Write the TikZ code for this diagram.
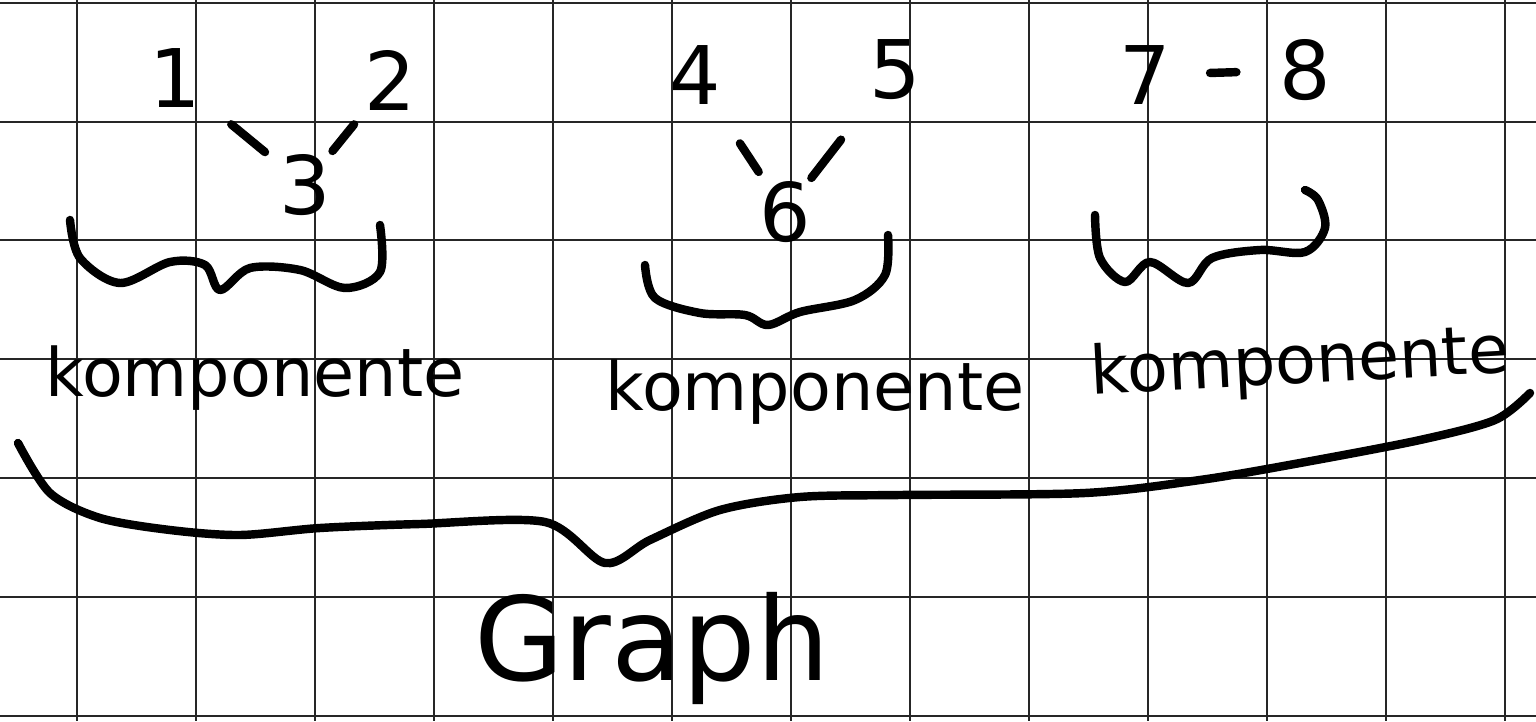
\documentclass[tikz,border=0pt]{standalone}
\usepackage{fontspec}
\setmainfont{DejaVu Sans}
\usetikzlibrary{positioning}

\begin{document}
\begin{tikzpicture}[
  x=0.01cm, y=-0.01cm,
  grid/.style={line width=0.75pt, black!85},
  pen/.style={line width=2.4pt, line cap=round, line join=round},
  vertex/.style={font=\fontsize{23}{23}\selectfont, inner sep=0pt},
  edge/.style={pen, shorten <=5pt, shorten >=5pt},
  part/.style={font=\fontsize{19}{19}\selectfont, inner sep=1pt},
  every node/.style={text=black}
]
  \useasboundingbox (0,0) rectangle (1536,721);
  \fill[white] (0,0) rectangle (1536,721);

  % squared paper
  \foreach \x in {77,196,...,1505} {
    \draw[grid] (\x,0) -- (\x,721);
  }
  \foreach \y in {3,122,240,359,478,597,716} {
    \draw[grid] (0,\y) -- (1536,\y);
  }

  % first component
  \node[vertex] (n1) at (175,78) {1};
  \node[vertex] (n2) at (390,80) {2};
  \node[vertex] (n3) at (305,185) {3};
  \draw[edge, shorten <=11pt] (n1) -- (n3);
  \draw[edge, shorten >=1pt] (n2) -- (n3);

  % second component
  \node[vertex] (n4) at (695,75) {4};
  \node[vertex] (n5) at (895,70) {5};
  \node[vertex] (n6) at (785,212) {6};
  \draw[edge, shorten <=13pt, shorten >=3pt] (n4) -- (n6);
  \draw[edge, shorten <=14pt, shorten >=1pt] (n5) -- (n6);

  % third component
  \node[vertex] (n7) at (1145,75) {7};
  \node[vertex] (n8) at (1305,70) {8};
  \draw[edge, shorten <=11pt, shorten >=12pt] (n7) -- (n8);

  % braces under the components
  \draw[pen] plot[smooth, tension=0.55] coordinates {
    (70,220) (80,258) (120,283) (170,262) (205,265) (220,290)
    (250,268) (300,270) (345,288) (380,272) (380,225)};
  \draw[pen] plot[smooth, tension=0.55] coordinates {
    (645,265) (655,298) (700,313) (745,315) (768,325)
    (800,312) (855,300) (885,275) (888,235)};
  \draw[pen] plot[smooth, tension=0.55] coordinates {
    (1095,215) (1100,258) (1125,282) (1150,262) (1188,283)
    (1212,258) (1260,250) (1305,252) (1325,228) (1318,200) (1305,190)};

  \node[part] (k1) at (255,378) {komponente};
  \node[part] (k2) at (815,392) {komponente};
  \node[part, rotate=3] (k3) at (1300,365) {komponente};

  % brace over the whole graph
  \draw[pen] plot[smooth, tension=0.5] coordinates {
    (18,443) (50,493) (100,518) (170,530) (240,535) (320,528)
    (420,524) (545,522) (605,563) (650,540) (720,510) (800,497)
    (900,495) (1085,493) (1200,480) (1300,463) (1420,440)
    (1495,420) (1530,393)};

  \node[font=\fontsize{33}{33}\selectfont] (g) at (652,648) {Graph};
\end{tikzpicture}
\end{document}
